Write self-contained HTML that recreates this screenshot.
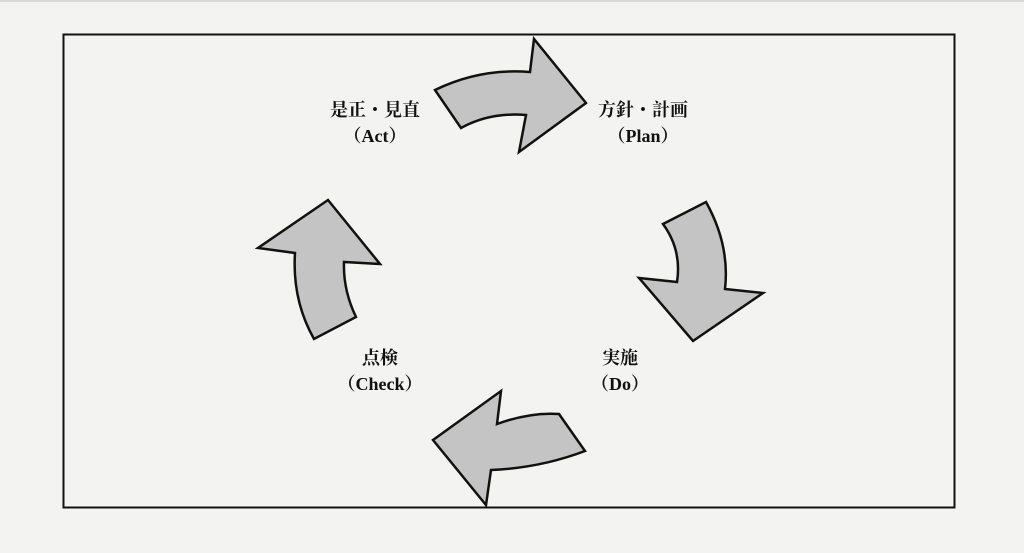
<!DOCTYPE html>
<html><head><meta charset="utf-8"><style>
html,body{margin:0;padding:0;background:#f3f3f1;}
body{width:1024px;height:553px;position:relative;overflow:hidden;}
.t{position:absolute;font-family:"Liberation Serif","Noto Serif CJK SC",serif;font-weight:bold;font-size:18px;color:#111;text-align:center;line-height:26px;white-space:nowrap;}
</style></head><body>
<svg width="1024" height="553" style="position:absolute;left:0;top:0">
<rect x="0" y="0" width="1024" height="2" fill="#d8d8d6"/>
<rect x="63.5" y="34.5" width="891" height="473" fill="none" stroke="#111" stroke-width="2"/>
<g fill="#c4c4c4" stroke="#111" stroke-width="2.5" stroke-linejoin="miter">
<path d="M435,90 Q480,68 530,72 L534,39 L586,103 L519,152 L526,115 Q490,112 461,128 Z"/>
<path d="M663,224 L706,202 Q730,245 725,289 L763,293 L693,341 L639,278 L677,282 Q682,250 663,224 Z"/>
<path d="M433,440 L501,391 L497,424 Q530,412 559,414 L585,451 Q540,468 491,470 L486,505 Z"/>
<path d="M328,200 L258,248 L295,253 Q292,300 314,339 L356,317 Q343,290 344,262 L380,264 Z"/>
</g>
</svg>
<div class="t" style="left:315px;top:97px;width:120px">是正・見直<br>（Act）</div>
<div class="t" style="left:583px;top:97px;width:120px">方針・計画<br>（Plan）</div>
<div class="t" style="left:580px;top:345px;width:80px">実施<br>（Do）</div>
<div class="t" style="left:320px;top:345px;width:120px">点検<br>（Check）</div>
</body></html>
